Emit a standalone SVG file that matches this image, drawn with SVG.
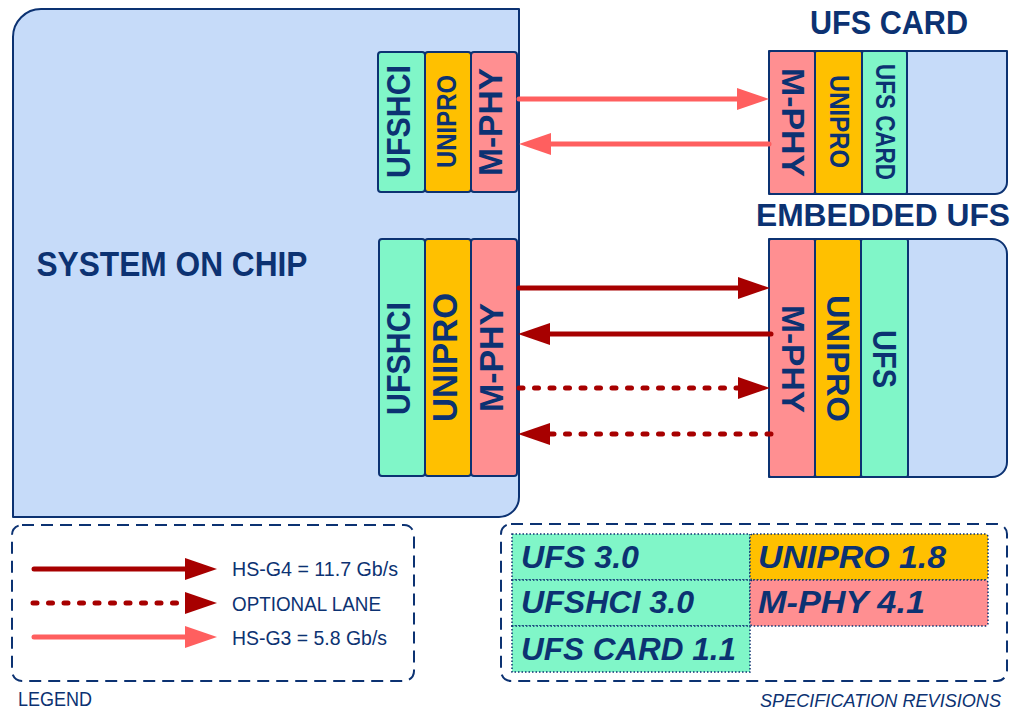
<svg xmlns="http://www.w3.org/2000/svg" width="1014" height="709" viewBox="0 0 1014 709">
  <style>
    .box { stroke: #0c3272; stroke-width: 2; stroke-linejoin: round; }
    .soc { fill: #c6dbf9; }
    .hci { fill: #80f6c8; }
    .uni { fill: #ffc000; }
    .phy { fill: #ff8f91; }
    .lbl { font-family: "Liberation Sans", Arial, sans-serif; font-weight: bold; fill: #0c3272; text-anchor: middle; }
    .note { font-family: "Liberation Sans", Arial, sans-serif; fill: #0c3272; }
    .spec { font-family: "Liberation Sans", Arial, sans-serif; font-weight: bold; font-style: italic; fill: #0c3272; font-size: 31px; }
    .g4 { stroke: #a70000; stroke-width: 5; stroke-linecap: round; fill: none; }
    .g3 { stroke: #ff5f5f; stroke-width: 5; stroke-linecap: round; fill: none; }
    .opt { stroke: #a70000; stroke-width: 5; stroke-linecap: round; stroke-dasharray: 4 11.5; fill: none; }
    .frame { fill: none; stroke: #0c3272; stroke-width: 2; stroke-dasharray: 12 7; }
    .cell { stroke: #0c3272; stroke-width: 1.5; stroke-dasharray: 1.5 2; }
  </style>
  <defs>
    <marker id="headDark" markerUnits="userSpaceOnUse" markerWidth="33" markerHeight="23" refX="0" refY="11" orient="auto">
      <path d="M0,0 L32,11 L0,22 Z" fill="#a70000"/>
    </marker>
    <marker id="headLight" markerUnits="userSpaceOnUse" markerWidth="33" markerHeight="23" refX="0" refY="11" orient="auto">
      <path d="M0,0 L32,11 L0,22 Z" fill="#ff5f5f"/>
    </marker>
  </defs>

  <!-- host system on chip -->
  <g id="soc">
    <path class="box soc" d="M13,37 A28,28 0 0 1 41,9 L519,9 L519,497 A20,20 0 0 1 499,517 L13,517 Z"/>
    <text class="lbl" x="172" y="276" font-size="35" textLength="271" lengthAdjust="spacingAndGlyphs">SYSTEM ON CHIP</text>
  </g>

  <!-- host stack for the UFS card link -->
  <g id="host-card-stack">
    <rect class="box hci" x="378" y="52" width="47" height="140" rx="3"/>
    <rect class="box uni" x="425" y="52" width="46" height="140" rx="3"/>
    <rect class="box phy" x="471" y="52" width="46" height="140" rx="3"/>
    <text class="lbl" x="401.5" y="130" font-size="34" textLength="113" lengthAdjust="spacingAndGlyphs" transform="rotate(-90 401.5 121.5)">UFSHCI</text>
    <text class="lbl" x="448" y="129" font-size="28" textLength="93" lengthAdjust="spacingAndGlyphs" transform="rotate(-90 448 121.5)">UNIPRO</text>
    <text class="lbl" x="494" y="130" font-size="33" textLength="108" lengthAdjust="spacingAndGlyphs" transform="rotate(-90 494 122)">M-PHY</text>
  </g>

  <!-- host stack for the embedded UFS link -->
  <g id="host-embedded-stack">
    <rect class="box hci" x="379" y="239" width="46" height="237" rx="3"/>
    <rect class="box uni" x="425" y="239" width="46" height="237" rx="3"/>
    <rect class="box phy" x="471" y="239" width="46" height="237" rx="3"/>
    <text class="lbl" x="401.5" y="367" font-size="34" textLength="113" lengthAdjust="spacingAndGlyphs" transform="rotate(-90 401.5 358.5)">UFSHCI</text>
    <text class="lbl" x="448" y="366.5" font-size="35" textLength="129" lengthAdjust="spacingAndGlyphs" transform="rotate(-90 448 357.5)">UNIPRO</text>
    <text class="lbl" x="494" y="366" font-size="33" textLength="109" lengthAdjust="spacingAndGlyphs" transform="rotate(-90 494 357.5)">M-PHY</text>
  </g>

  <!-- removable UFS card -->
  <g id="ufs-card">
    <text class="lbl" x="889" y="34" font-size="33" textLength="158" lengthAdjust="spacingAndGlyphs">UFS CARD</text>
    <path class="box soc" d="M769,51 L1007,51 L1007,182 A12,12 0 0 1 995,194 L769,194 Z"/>
    <rect class="box phy" x="769" y="51" width="46" height="143" rx="2"/>
    <rect class="box uni" x="815" y="51" width="47" height="143" rx="2"/>
    <rect class="box hci" x="862" y="51" width="45" height="143" rx="2"/>
    <text class="lbl" x="793.5" y="134" font-size="32" textLength="109" lengthAdjust="spacingAndGlyphs" transform="rotate(90 793.5 122.5)">M-PHY</text>
    <text class="lbl" x="839.5" y="131" font-size="27" textLength="93" lengthAdjust="spacingAndGlyphs" transform="rotate(90 839.5 121.5)">UNIPRO</text>
    <text class="lbl" x="885.5" y="131.5" font-size="27" textLength="116" lengthAdjust="spacingAndGlyphs" transform="rotate(90 885.5 122)">UFS CARD</text>
  </g>

  <!-- embedded UFS device -->
  <g id="embedded-ufs">
    <text class="lbl" x="883" y="226" font-size="32" textLength="254" lengthAdjust="spacingAndGlyphs">EMBEDDED UFS</text>
    <path class="box soc" d="M769,239 L992,239 A15,15 0 0 1 1007,254 L1007,462 A15,15 0 0 1 992,477 L769,477 Z"/>
    <rect class="box phy" x="769" y="239" width="46" height="238" rx="2"/>
    <rect class="box uni" x="815" y="239" width="46" height="238" rx="2"/>
    <rect class="box hci" x="861" y="239" width="47" height="238" rx="2"/>
    <text class="lbl" x="793.5" y="370.5" font-size="32" textLength="108" lengthAdjust="spacingAndGlyphs" transform="rotate(90 793.5 359)">M-PHY</text>
    <text class="lbl" x="838.5" y="370" font-size="32" textLength="127" lengthAdjust="spacingAndGlyphs" transform="rotate(90 838.5 358.5)">UNIPRO</text>
    <text class="lbl" x="885" y="371" font-size="33" textLength="58" lengthAdjust="spacingAndGlyphs" transform="rotate(90 885 359)">UFS</text>
  </g>

  <!-- M-PHY lanes -->
  <g id="connectors">
    <line class="g3" x1="519" y1="99" x2="737" y2="99" marker-end="url(#headLight)"/>
    <line class="g3" x1="769" y1="144" x2="551" y2="144" marker-end="url(#headLight)"/>
    <line class="g4" x1="519" y1="288" x2="738" y2="288" marker-end="url(#headDark)"/>
    <line class="g4" x1="771" y1="334" x2="550" y2="334" marker-end="url(#headDark)"/>
    <line class="opt" x1="519" y1="388" x2="738" y2="388" marker-end="url(#headDark)"/>
    <line class="opt" x1="771" y1="434" x2="550" y2="434" marker-end="url(#headDark)"/>
  </g>

  <!-- legend -->
  <g id="legend">
    <rect class="frame" x="12" y="525" width="402" height="156" rx="10"/>
    <line class="g4" x1="34" y1="569" x2="185" y2="569" marker-end="url(#headDark)"/>
    <line class="opt" x1="33" y1="603" x2="185" y2="603" marker-end="url(#headDark)"/>
    <line class="g3" x1="34" y1="637" x2="185" y2="637" marker-end="url(#headLight)"/>
    <text class="note" x="232" y="576" font-size="20" textLength="166" lengthAdjust="spacingAndGlyphs">HS-G4 = 11.7 Gb/s</text>
    <text class="note" x="232" y="611" font-size="20" textLength="149" lengthAdjust="spacingAndGlyphs">OPTIONAL LANE</text>
    <text class="note" x="232" y="645" font-size="20" textLength="155" lengthAdjust="spacingAndGlyphs">HS-G3 = 5.8 Gb/s</text>
    <text class="note" x="18" y="706" font-size="20" textLength="74" lengthAdjust="spacingAndGlyphs">LEGEND</text>
  </g>

  <!-- specification revisions -->
  <g id="spec-revisions">
    <rect class="frame" x="501" y="524" width="506" height="157" rx="10"/>
    <rect class="cell hci" x="512" y="534" width="238" height="46"/>
    <rect class="cell hci" x="512" y="580" width="238" height="46"/>
    <rect class="cell hci" x="512" y="626" width="238" height="46"/>
    <rect class="cell uni" x="750" y="534" width="238" height="46" rx="3"/>
    <rect class="cell phy" x="750" y="580" width="238" height="46" rx="3"/>
    <text class="spec" x="521" y="568" textLength="118" lengthAdjust="spacingAndGlyphs">UFS 3.0</text>
    <text class="spec" x="521" y="613" textLength="173" lengthAdjust="spacingAndGlyphs">UFSHCI 3.0</text>
    <text class="spec" x="521" y="660" textLength="215" lengthAdjust="spacingAndGlyphs">UFS CARD 1.1</text>
    <text class="spec" x="758" y="568" textLength="188" lengthAdjust="spacingAndGlyphs">UNIPRO 1.8</text>
    <text class="spec" x="758" y="613" textLength="167" lengthAdjust="spacingAndGlyphs">M-PHY 4.1</text>
    <text class="note" x="760" y="707" font-size="19" font-style="italic" textLength="241" lengthAdjust="spacingAndGlyphs">SPECIFICATION REVISIONS</text>
  </g>
</svg>
